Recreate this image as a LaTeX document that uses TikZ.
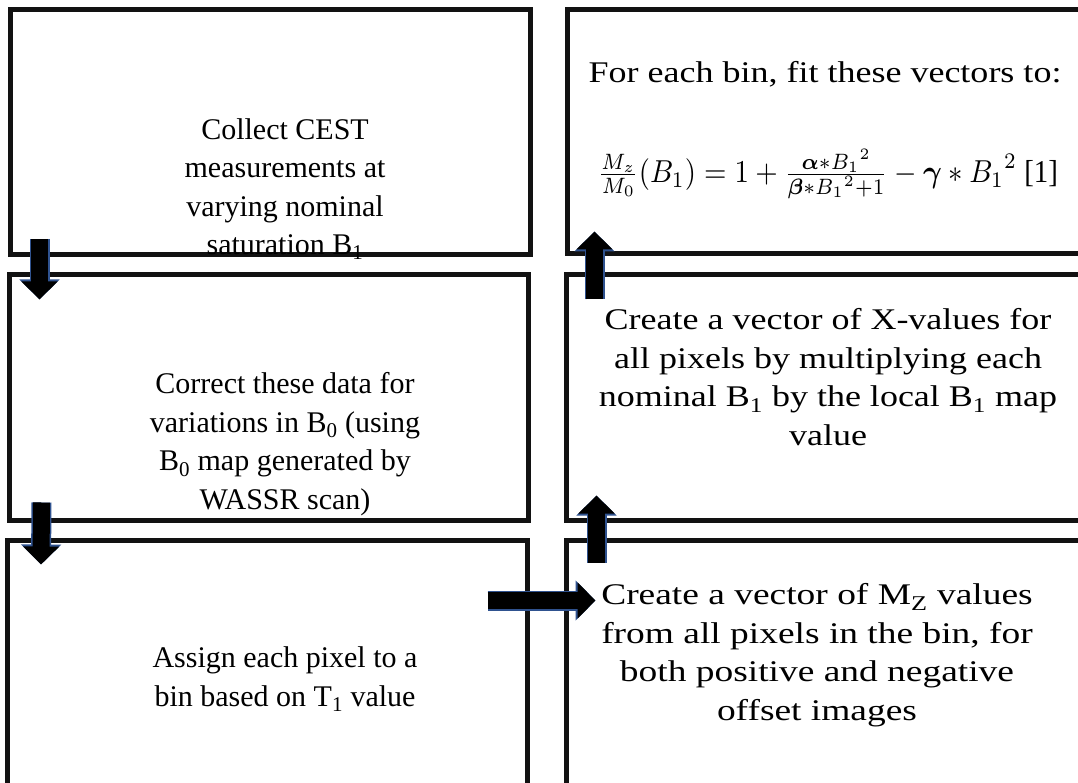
\documentclass[tikz,border=0pt]{standalone}
\usepackage{amsmath,amssymb}
\usepackage{graphicx}
\usepackage{fontspec}
\setmainfont{Liberation Serif}
\usetikzlibrary{arrows.meta}
\definecolor{arrowblue}{RGB}{47,82,143}
\newcommand{\stretchtext}[1]{\scalebox{1.2}[1]{\begin{tabular}{@{}c@{}}#1\end{tabular}}}
\begin{document}
\begin{tikzpicture}[x=1pt,y=-1pt,
  flowbox/.style={draw=black!93,line width=5pt,inner sep=0pt},
  boxtext/.style={align=center,font=\fontsize{30}{38.5}\selectfont,inner sep=0pt},
  blockarrow/.style={line width=17pt,-{Triangle[length=18pt,width=35pt]},
    preaction={draw=arrowblue,line width=20pt,-{Triangle[length=20pt,width=39pt]}}}]
\useasboundingbox(0,0)rectangle(1078,783);
\fill[white](0,0)rectangle(1078,783);
\clip(0,0)rectangle(1078,783);
\node[flowbox,minimum width=520pt,minimum height=245pt](collect)at(270,132){};
\node[flowbox,minimum width=519pt,minimum height=245pt](correct)at(269,397.5){};
\node[flowbox,minimum width=520pt,minimum height=260pt](assign)at(267,670){};
\node[flowbox,minimum width=518pt,minimum height=244pt](fitvec)at(826,132){};
\node[flowbox,minimum width=519pt,minimum height=245pt](xvec)at(825.5,397.5){};
\node[flowbox,minimum width=519pt,minimum height=260pt](mzvec)at(825.5,670){};
\node[boxtext](collecttext)at(285,189){Collect CEST\\measurements at\\varying nominal\\saturation B\textsubscript{1}};
\node[boxtext](correcttext)at(285,444){Correct these data for\\variations in B\textsubscript{0} (using\\B\textsubscript{0} map generated by\\WASSR scan)};
\node[boxtext](assigntext)at(285,679){Assign each pixel to a\\bin based on T\textsubscript{1} value};
\node[boxtext](fittext)at(825,75){\stretchtext{For each bin, fit these vectors to:}};
\node[boxtext](fiteq)at(828,174){\scalebox{1}[1.1]{\resizebox{460pt}{!}{\fontsize{10}{12}\selectfont$\frac{M_z}{M_0}(B_1)=1+\frac{\boldsymbol{\alpha}\ast{B_1}^2}{\boldsymbol{\beta}\ast{B_1}^2+1}-\boldsymbol{\gamma}\ast{B_1}^2$ [1]}}};
\node[boxtext](xvectext)at(828,380){\stretchtext{Create a vector of X-values for\\all pixels by multiplying each\\nominal B\textsubscript{1} by the local B\textsubscript{1} map\\value}};
\node[boxtext](mzvectext)at(817,655){\scalebox{1.04}[1]{\stretchtext{Create a vector of M\textsubscript{Z} values\\from all pixels in the bin, for\\both positive and negative\\offset images}}};
\draw[blockarrow]([xshift=32pt,yshift=18pt]collect.south west)--([xshift=32.5pt,yshift=-27pt]correct.north west);
\draw[blockarrow]([xshift=34.5pt,yshift=20pt]correct.south west)--([xshift=36.5pt,yshift=-27pt]assign.north west);
\draw[blockarrow]([xshift=-42pt,yshift=-63pt]assign.north east)--([xshift=32pt,yshift=-63pt]mzvec.north west);
\draw[blockarrow]([xshift=33pt,yshift=-25pt]mzvec.north west)--([xshift=33pt,yshift=27pt]xvec.south west);
\draw[blockarrow]([xshift=31pt,yshift=-27pt]xvec.north west)--([xshift=30pt,yshift=25pt]fitvec.south west);
\end{tikzpicture}
\end{document}
